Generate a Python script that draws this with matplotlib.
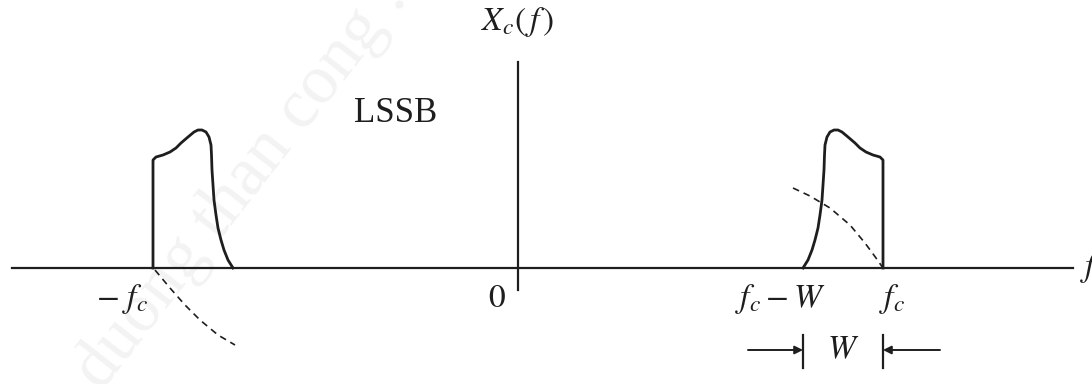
import numpy as np
import matplotlib
matplotlib.use('Agg')
import matplotlib.pyplot as plt

# 频谱形状 (以 f=0 为中心, 单位: 任意)
fc = 365
W = 80

# 正频率 LSSB 频谱: 相对频率与幅度
spec_f = [285, 290, 294, 297, 300, 302, 304, 305, 306, 306.5, 307, 309, 312, 316,
          320, 324, 330, 337, 342, 348, 355, 362, 365, 365]
spec_amp = [0, 8, 18, 28, 40, 53, 68, 83, 98, 113, 123, 131, 136, 138,
            138, 136, 131, 125, 120, 116, 113, 111, 108, 0]

# 虚线 (滤波器边沿)
dash_right_f = [275, 292, 312, 332, 347, 358, 365]
dash_right_amp = [80, 72, 60, 43, 25, 10, 0]
dash_left_f = [-363, -348, -333, -318, -300, -283]
dash_left_amp = [-2, -20, -37, -52, -67, -77]

tick_labels = [r'$-\ f_c$', r'$0$', r'$f_c - W$', r'$f_c$']
tick_pos = [-396, -21, 262, 374]

plt.rcParams['mathtext.fontset'] = 'stix'
plt.rcParams['font.family'] = ['Liberation Serif', 'DejaVu Serif']

fig = plt.figure(figsize=(10.92, 3.84), dpi=100)
ax = fig.add_axes([0, 0, 1, 1])
ax.set_xlim(-518, 574)
ax.set_ylim(-116, 268)
ax.axis('off')

lc = '#1e1e1e'

# 水印
ax.text(-270, 90, 'cuu duong than cong . com', fontsize=50, color='#f3f3f3',
        rotation=52, ha='center', va='center', zorder=0)

# 坐标轴
ax.plot([-506, 555], [0, 0], color=lc, lw=1.6)
ax.plot([0, 0], [206, -22], color=lc, lw=1.6)

# 频谱
sf = np.array(spec_f)
sa = np.array(spec_amp)
ax.plot(sf, sa, color=lc, lw=2.0, solid_joinstyle='round')
ax.plot(-sf, sa, color=lc, lw=2.0, solid_joinstyle='round')

# 虚线
ax.plot(dash_right_f, dash_right_amp, color=lc, lw=1.2, ls=(0, (4, 3)))
ax.plot(dash_left_f, dash_left_amp, color=lc, lw=1.2, ls=(0, (4, 3)))

# 标签
for lab, x in zip(tick_labels, tick_pos):
    ax.text(x, -31, lab, fontsize=24, ha='center', va='center', color=lc)
ax.text(562, 0, r'$f$', fontsize=24, ha='left', va='center', color=lc)
ax.text(0, 246, r'$X_c(\,f\,)$', fontsize=24, ha='center', va='center', color=lc)
ax.text(-122, 155, 'LSSB', fontsize=25, ha='center', va='center', color=lc)

# 带宽 W 标注
ax.plot([fc - W, fc - W], [-67, -100], color=lc, lw=1.6)
ax.plot([fc, fc], [-67, -100], color=lc, lw=1.6)
ax.annotate('', xy=(fc - W, -82), xytext=(230, -82),
            arrowprops=dict(arrowstyle='-|>', color=lc, lw=1.4, mutation_scale=12,
                            shrinkA=0, shrinkB=0))
ax.annotate('', xy=(fc, -82), xytext=(422, -82),
            arrowprops=dict(arrowstyle='-|>', color=lc, lw=1.4, mutation_scale=12,
                            shrinkA=0, shrinkB=0))
ax.text(fc - W / 2, -82, r'$W$', fontsize=24, ha='center', va='center', color=lc)

plt.savefig('out.png', dpi=100)
